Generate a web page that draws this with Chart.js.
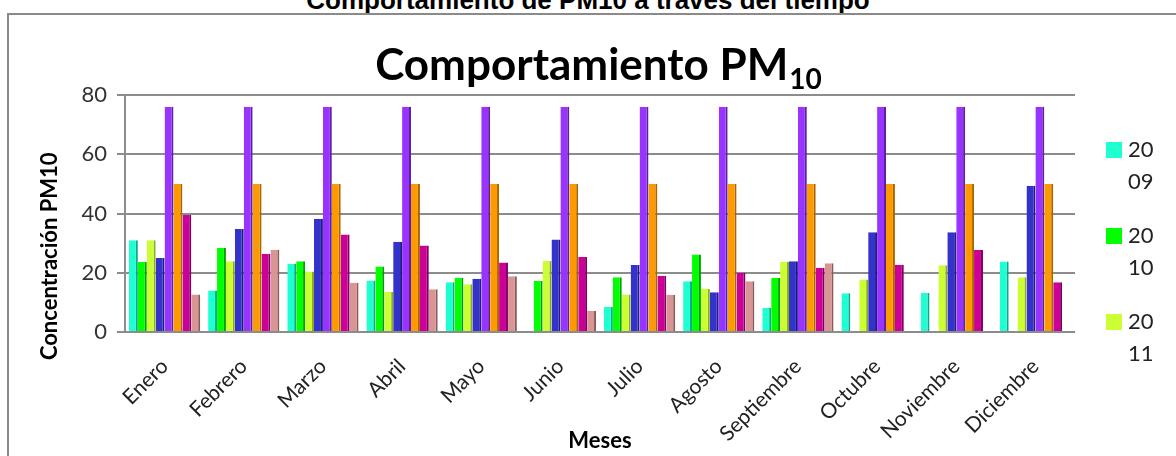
<!DOCTYPE html>
<html>
<head>
<meta charset="utf-8">
<script src="https://cdn.jsdelivr.net/npm/chart.js@4.4.1/dist/chart.umd.min.js"></script>
<style>
  html,body{margin:0;padding:0;background:#fff;}
  body{width:1176px;height:456px;position:relative;overflow:hidden;}
  #caption{position:absolute;left:0;width:1176px;top:-15px;text-align:center;
    font:bold 26px "Liberation Sans",Arial,sans-serif;color:#000;}
  #frame{position:absolute;left:7px;top:13px;width:1200px;height:500px;border:2px solid #8a8a8a;}
  #wrap{position:absolute;left:0;top:0;width:1176px;height:456px;}
</style>
</head>
<body>
<div id="caption">Comportamiento de PM10 a través del tiempo</div>
<div id="frame"></div>
<div id="wrap"><canvas id="c"></canvas></div>
<script>
const meses = ['Enero','Febrero','Marzo','Abril','Mayo','Junio','Julio','Agosto','Septiembre','Octubre','Noviembre','Diciembre'];

// valores (null = sin dato)
const s2009 = [31, 14, 23, 17.4, 16.8, null, 8.4, 17.1, 8.2, 13.1, 13.2, 23.8];
const s2010 = [23.6, 28.4, 23.9, 22.1, 18.2, 17.2, 18.5, 26.2, 18.3, null, null, null];
const s2011 = [31, 23.9, 20.4, 13.5, 16.1, 24, 12.7, 14.5, 23.7, 17.7, 22.5, 18.5];
const s2012 = [25, 34.8, 38.2, 30.5, 18, 31.2, 22.6, 13.4, 23.9, 33.7, 33.7, 49.4];
const norma1 = [76, 76, 76, 76, 76, 76, 76, 76, 76, 76, 76, 76];
const norma2 = [50, 50, 50, 50, 50, 50, 50, 50, 50, 50, 50, 50];
const s2013 = [39.5, 26.4, 32.9, 29.2, 23.5, 25.3, 19, 20, 21.7, 22.7, 27.7, 16.8];
const s2014 = [12.7, 27.8, 16.6, 14.4, 18.8, 7.1, 12.6, 17.1, 23.2, null, null, null];

const yTicks = [0, 20, 40, 60, 80];

const series = [
  {label:'2009', data:s2009, color:'#1effd2', edge:'#0fa88a'},
  {label:'2010', data:s2010, color:'#00ff00', edge:'#00a000'},
  {label:'2011', data:s2011, color:'#ccff33', edge:'#8aab1f'},
  {label:'2012', data:s2012, color:'#3333cc', edge:'#1c1c80'},
  {label:'Norma 1', data:norma1, color:'#9933ff', edge:'#5e1fa0'},
  {label:'Norma 2', data:norma2, color:'#ff9900', edge:'#a86500'},
  {label:'2013', data:s2013, color:'#cc0099', edge:'#800060'},
  {label:'2014', data:s2014, color:'#d99594', edge:'#8c5a5a'}
];

// titulo con subindice + leyenda (solo 3 entradas visibles, texto partido en dos lineas)
const extras = {
  id:'extras',
  afterDraw(chart){
    const ctx = chart.ctx;
    ctx.save();
    ctx.fillStyle = '#000';
    ctx.textBaseline = 'alphabetic';
    const big = 'bold 44px Lato';
    const small = 'bold 28px Lato';
    ctx.font = big;
    const w1 = ctx.measureText('Comportamiento PM').width;
    ctx.font = small;
    const w2 = ctx.measureText('10').width;
    let x = 598 - (w1 + w2)/2;
    ctx.font = big;
    ctx.textAlign = 'left';
    ctx.fillText('Comportamiento PM', x, 80);
    ctx.font = small;
    ctx.fillText('10', x + w1 + 1, 89);

    ctx.font = '22px Lato';
    chart.data.datasets.slice(0,3).forEach((ds,i)=>{
      const top = 142 + i*86;
      ctx.fillStyle = ds.backgroundColor;
      ctx.fillRect(1106, top, 16, 16);
      ctx.fillStyle = '#222';
      ctx.textBaseline = 'top';
      ctx.fillText(ds.label.slice(0,2), 1128, top-3);
      ctx.fillText(ds.label.slice(2), 1128, top+29);
    });
    ctx.restore();
  }
};

new Chart(document.getElementById('c'), {
  type:'bar',
  data:{
    labels:meses,
    datasets:series.map(s=>({
      label:s.label,
      data:s.data,
      backgroundColor:s.color,
      borderColor:s.edge,
      borderWidth:{top:0,right:2,bottom:0,left:0},
      borderSkipped:false,
      categoryPercentage:0.9,
      barPercentage:1.0
    }))
  },
  options:{
    responsive:true,
    maintainAspectRatio:false,
    animation:false,
    layout:{padding:{left:12,right:101,top:95,bottom:0}},
    plugins:{legend:{display:false},tooltip:{enabled:false},title:{display:false}},
    scales:{
      x:{
        grid:{display:false},
        border:{display:false},
        ticks:{color:'#222',font:{family:'Lato',size:21},maxRotation:45,minRotation:45,padding:14},
        title:{display:true,text:'Meses',color:'#000',font:{family:'Lato',size:22,weight:'bold'},padding:{bottom:2}},
        afterFit(scale){ scale.height = 124; }
      },
      y:{
        min:0,max:80,
        afterBuildTicks(scale){ scale.ticks = yTicks.map(v=>({value:v})); },
        grid:{color:'#8c8c8c',lineWidth:2,tickLength:8,drawTicks:true},
        border:{color:'#8c8c8c',width:2},
        ticks:{color:'#333',font:{family:'Lato',size:22},padding:10},
        title:{display:true,text:'Concentración PM10                ',color:'#000',font:{family:'Lato',size:22,weight:'bold'},padding:{top:25}},
        afterFit(scale){ scale.width = 113; }
      }
    }
  },
  plugins:[extras]
});
</script>
</body>
</html>
